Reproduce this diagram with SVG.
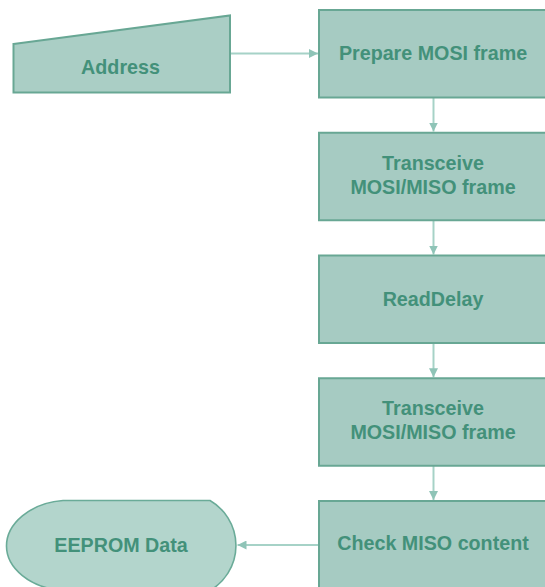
<svg xmlns="http://www.w3.org/2000/svg" width="545" height="587" viewBox="0 0 545 587">
  <style>
    .proc { fill: #a6cbc2; stroke: #68a794; stroke-width: 2; }
    .io { fill: #aacec5; stroke: #68a794; stroke-width: 2; }
    .disp { fill: #b3d5cc; stroke: #6aab98; stroke-width: 1.6; }
    .lbl { font-family: "Liberation Sans", Arial, sans-serif; font-weight: bold; font-size: 19.7px; fill: #43917a; text-anchor: middle; }
    .conn { fill: none; stroke: #a6d2c7; stroke-width: 2; }
  </style>
  <defs>
    <marker id="arrow" viewBox="0 0 10 10" refX="10" refY="5" markerWidth="4.5" markerHeight="4.5" orient="auto" markerUnits="strokeWidth">
      <path d="M0,0 L10,5 L0,10 Z" fill="#8fc4b7"/>
    </marker>
  </defs>

  <rect width="545" height="587" fill="#ffffff"/>

  <g id="connectors">
    <path class="conn" d="M230,53.5 L318,53.5" marker-end="url(#arrow)"/>
    <path class="conn" d="M433.5,97.5 L433.5,131.5" marker-end="url(#arrow)"/>
    <path class="conn" d="M433.5,220.25 L433.5,254.5" marker-end="url(#arrow)"/>
    <path class="conn" d="M433.5,343 L433.5,377.25" marker-end="url(#arrow)"/>
    <path class="conn" d="M433.5,465.75 L433.5,500" marker-end="url(#arrow)"/>
    <path class="conn" d="M319,545 L237.5,545" marker-end="url(#arrow)"/>
  </g>

  <g id="address">
    <path class="io" d="M13.5,44 L230,15.5 L230,92.5 L13.5,92.5 Z"/>
    <text class="lbl" x="120.5" y="74">Address</text>
  </g>

  <g id="prepare-mosi">
    <rect class="proc" x="319" y="10" width="229" height="87.5"/>
    <text class="lbl" x="433" y="60">Prepare MOSI frame</text>
  </g>

  <g id="transceive-1">
    <rect class="proc" x="319" y="132.75" width="229" height="87.5"/>
    <text class="lbl" x="433" y="170">Transceive</text>
    <text class="lbl" x="433" y="194">MOSI/MISO frame</text>
  </g>

  <g id="read-delay">
    <rect class="proc" x="319" y="255.5" width="229" height="87.5"/>
    <text class="lbl" x="433" y="306">ReadDelay</text>
  </g>

  <g id="transceive-2">
    <rect class="proc" x="319" y="378.25" width="229" height="87.5"/>
    <text class="lbl" x="433" y="415">Transceive</text>
    <text class="lbl" x="433" y="439">MOSI/MISO frame</text>
  </g>

  <g id="check-miso">
    <rect class="proc" x="319" y="501" width="229" height="87.5"/>
    <text class="lbl" x="433" y="550">Check MISO content</text>
  </g>

  <g id="eeprom-data">
    <path class="disp" d="M6.5,546 C6.5,524 30,503 63,500.5 L210,500.5 A52,52 0 0 1 210,590.5 L63,590.5 C30,588 6.5,568 6.5,546 Z"/>
    <text class="lbl" x="121" y="552">EEPROM Data</text>
  </g>
</svg>
